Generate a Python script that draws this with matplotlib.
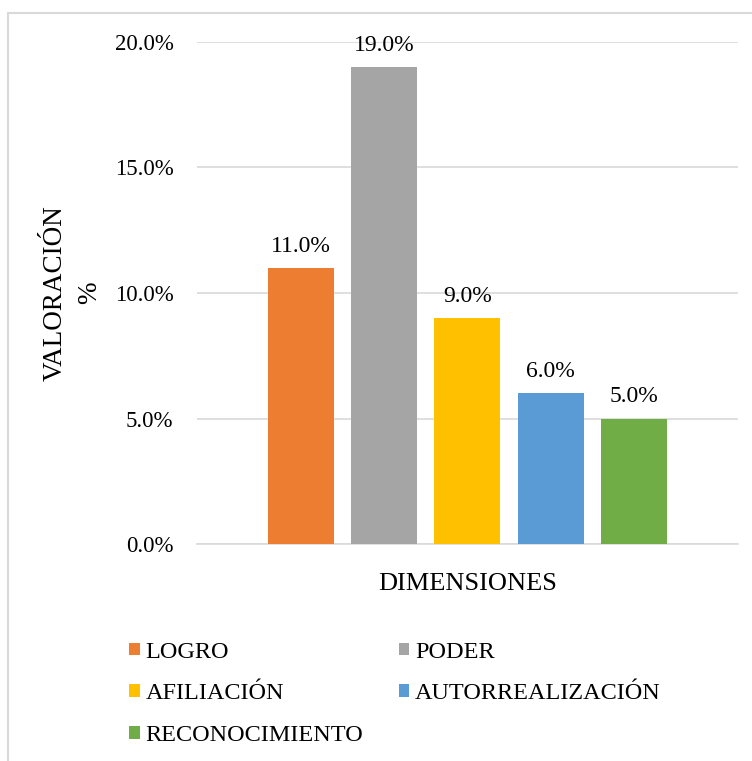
import matplotlib.pyplot as plt
from matplotlib.lines import Line2D
from matplotlib.ticker import FuncFormatter

plt.rcParams['font.family'] = ['Liberation Serif', 'DejaVu Serif']

dimensiones = ['LOGRO', 'PODER', 'AFILIACIÓN', 'AUTORREALIZACIÓN', 'RECONOCIMIENTO']
valores = [11.0, 19.0, 9.0, 6.0, 5.0]
colores = ['#ED7D31', '#A5A5A5', '#FFC000', '#5B9BD5', '#70AD47']

fig = plt.figure(figsize=(7.52, 7.61), dpi=100)
ax = fig.add_axes([0.262, 0.285, 0.719, 0.66])

ancho = 0.122
paso = 0.154
barras = []
for i, (nombre, v, c) in enumerate(zip(dimensiones, valores, colores)):
    b = ax.bar((i - 2) * paso, v, width=ancho, color=c, label=nombre, zorder=3)
    ax.bar_label(b, labels=['%.1f%%' % v], padding=8, fontsize=17)
    barras.append(b)

ax.set_xlim(-0.5, 0.5)
ax.set_ylim(0, 20)
ax.set_yticks([0, 5, 10, 15, 20])
ax.yaxis.set_major_formatter(FuncFormatter(lambda y, p: '%.1f%%' % y))
ax.set_xticks([])
ax.tick_params(axis='y', length=0, labelsize=16.5, pad=17)
ax.grid(axis='y', color='#D9D9D9', linewidth=1.2, zorder=0)
for s in ['top', 'right', 'left']:
    ax.spines[s].set_visible(False)
ax.spines['bottom'].set_color('#D9D9D9')
ax.spines['bottom'].set_linewidth(1.2)

ax.set_ylabel('VALORACIÓN\n%', fontsize=19.5, linespacing=1.5, labelpad=9)
ax.set_xlabel('DIMENSIONES', fontsize=19, labelpad=21)

# legend filled row by row: two columns
orden = [0, 2, 4, 1, 3]
fig.legend([barras[i] for i in orden], [dimensiones[i] for i in orden],
           ncol=2, loc='upper left', bbox_to_anchor=(0.172, 0.157),
           frameon=False, fontsize=17.5, handlelength=0.42, handleheight=0.42,
           handletextpad=0.25, columnspacing=1.45, labelspacing=0.86,
           borderpad=0, borderaxespad=0)

# outer chart border
fig.add_artist(Line2D([8 / 752, 8 / 752], [0, 1 - 13 / 761], transform=fig.transFigure,
                      color='#D9D9D9', linewidth=1.5))
fig.add_artist(Line2D([8 / 752, 1], [1 - 13 / 761, 1 - 13 / 761], transform=fig.transFigure,
                      color='#D9D9D9', linewidth=1.5))

fig.savefig('out.png', dpi=100)
